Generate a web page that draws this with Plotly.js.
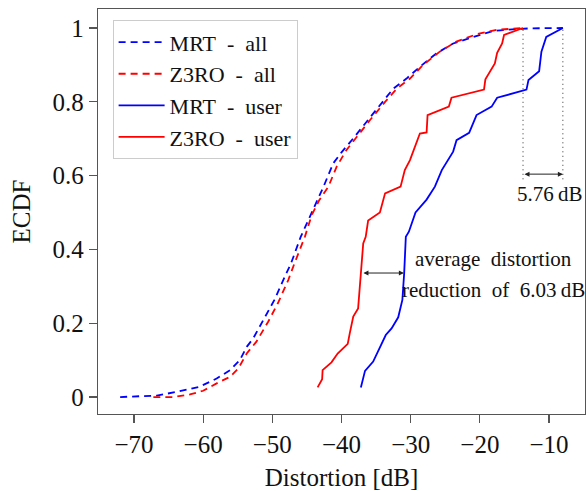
<!DOCTYPE html>
<html>
<head>
<meta charset="utf-8">
<script src="https://cdn.plot.ly/plotly-3.0.1.min.js"></script>
<style>html,body{margin:0;padding:0;background:#fff;}#chart{width:586px;height:491px;}</style>
</head>
<body>
<div id="chart"></div>
<script>
// Series names
const seriesNames = ["MRT\u2002-\u2002all", "Z3RO\u2002-\u2002all", "MRT\u2002-\u2002user", "Z3RO\u2002-\u2002user"];

// MRT - all (dashed blue)
const mrtAllX = [-72.0,-66.7,-63.8,-60.5,-58.05,-56.1,-54.7,-53.7,-52.76,-51.1,-49.7,-48.2,-47.3,-45.9,-44.35,-43.4,-42.6,-41.2,-40.0,-38.3,-36.4,-34.45,-32.5,-30.6,-28.67,-26.3,-23.86,-20.9,-18.1,-14.7,-12.8,-8.0];
const mrtAllY = [0.0,0.004,0.014,0.028,0.05,0.073,0.1,0.136,0.159,0.215,0.263,0.326,0.362,0.434,0.498,0.534,0.57,0.633,0.663,0.701,0.746,0.791,0.836,0.863,0.895,0.931,0.958,0.976,0.992,0.997,0.999,1.0];

// Z3RO - all (dashed red)
const z3roAllX = [-67.2,-64.3,-61.9,-60.0,-58.05,-56.1,-54.9,-53.7,-52.3,-50.6,-49.2,-47.7,-46.8,-45.3,-44.3,-43.2,-41.9,-40.7,-39.3,-37.8,-35.9,-33.7,-32.0,-30.1,-28.2,-25.8,-23.4,-20.5,-17.6,-13.76];
const z3roAllY = [0.0,0.0,0.007,0.017,0.037,0.055,0.078,0.118,0.15,0.204,0.254,0.317,0.362,0.434,0.493,0.534,0.57,0.624,0.669,0.705,0.75,0.8,0.836,0.863,0.9,0.936,0.963,0.983,0.995,1.0];

// MRT - user (solid blue)
const mrtUserX = [-37.2,-36.6,-35.42,-34.7,-33.6,-32.76,-31.8,-31.2,-30.94,-30.7,-30.26,-29.3,-27.7,-26.5,-25.5,-23.86,-23.37,-21.55,-20.48,-18.3,-17.5,-13.26,-12.97,-11.43,-11.1,-10.4,-8.0];
const mrtUserY = [0.026,0.071,0.096,0.123,0.168,0.186,0.216,0.263,0.335,0.434,0.448,0.500,0.535,0.570,0.615,0.665,0.696,0.716,0.764,0.787,0.811,0.833,0.859,0.883,0.936,0.976,1.0];

// Z3RO - user (solid red)
const z3roUserX = [-43.45,-42.8,-42.73,-41.45,-40.56,-39.1,-38.8,-38.3,-37.6,-37.45,-37.2,-36.95,-36.86,-36.5,-36.15,-34.45,-33.7,-31.46,-30.85,-30.1,-29.15,-28.67,-27.7,-27.56,-24.48,-24.1,-19.4,-19.2,-17.83,-17.5,-16.78,-16.5,-13.76];
const z3roUserY = [0.026,0.048,0.073,0.094,0.118,0.144,0.173,0.218,0.240,0.281,0.335,0.398,0.416,0.434,0.478,0.500,0.552,0.570,0.615,0.642,0.692,0.714,0.717,0.764,0.787,0.811,0.833,0.861,0.904,0.933,0.958,0.981,1.0];

// Annotation values
const maxGapX = [-13.76, -8.0];      // dotted guides
const maxGapYRange = [0.59, 1.0];
const maxGapArrowY = 0.604;
const maxGapLabel = "5.76\u2009dB";
const avgArrowX = [-37.05, -30.98];
const avgArrowY = 0.336;
const avgLabels = ["average\u2002distortion", "reduction\u2002of\u20026.03\u2009dB"];

const FONT = "Liberation Serif";
const AXC = "#555555";

const traces = [
  {x: mrtAllX, y: mrtAllY, name: seriesNames[0], mode: "lines", line: {color: "#0000ff", width: 1.8, dash: "7px,5px"}},
  {x: z3roAllX, y: z3roAllY, name: seriesNames[1], mode: "lines", line: {color: "#ff0000", width: 1.8, dash: "7px,5px"}},
  {x: mrtUserX, y: mrtUserY, name: seriesNames[2], mode: "lines", line: {color: "#0000ff", width: 1.8}},
  {x: z3roUserX, y: z3roUserY, name: seriesNames[3], mode: "lines", line: {color: "#ff0000", width: 1.8}},
];
maxGapX.forEach(function (gx) {
  traces.push({x: [gx, gx], y: maxGapYRange, mode: "lines", showlegend: false, hoverinfo: "skip",
    line: {color: "#333333", width: 1, dash: "1px,3.5px"}});
});

const annotations = [
  {x: maxGapX[1], y: maxGapArrowY, ax: maxGapX[0], ay: maxGapArrowY, xref: "x", yref: "y", axref: "x", ayref: "y",
   text: "", showarrow: true, arrowhead: 2, startarrowhead: 2, arrowside: "end+start", arrowsize: 1, arrowwidth: 1, arrowcolor: "#222"},
  {x: (maxGapX[0] + maxGapX[1]) / 2 + 0.9, y: 0.55, xref: "x", yref: "y", text: maxGapLabel, showarrow: false,
   font: {family: FONT, size: 21, color: "#111"}},
  {x: avgArrowX[1], y: avgArrowY, ax: avgArrowX[0], ay: avgArrowY, xref: "x", yref: "y", axref: "x", ayref: "y",
   text: "", showarrow: true, arrowhead: 2, startarrowhead: 2, arrowside: "end+start", arrowsize: 1, arrowwidth: 1, arrowcolor: "#222"},
  {x: -18.1, y: 0.374, xref: "x", yref: "y", text: avgLabels[0], showarrow: false, font: {family: FONT, size: 21, color: "#111"}},
  {x: -18.1, y: 0.29, xref: "x", yref: "y", text: avgLabels[1], showarrow: false, font: {family: FONT, size: 21, color: "#111"}},
];

const layout = {
  width: 586, height: 491,
  margin: {l: 98, r: 1, t: 9, b: 77},
  paper_bgcolor: "#ffffff", plot_bgcolor: "#ffffff",
  font: {family: FONT, size: 24, color: "#111"},
  showlegend: true,
  legend: {x: 0.030, y: 0.972, xanchor: "left", yanchor: "top", bgcolor: "#ffffff",
    bordercolor: "#cccccc", borderwidth: 1, font: {family: FONT, size: 22, color: "#111"},
    itemwidth: 46, tracegroupgap: 0},
  xaxis: {range: [-75.2, -4.8], tickvals: [-70, -60, -50, -40, -30, -20, -10],
    showgrid: false, zeroline: false, showline: true, linecolor: AXC, linewidth: 1.3, mirror: true,
    ticks: "outside", ticklen: 8, tickwidth: 1.2, tickcolor: AXC,
    tickfont: {family: FONT, size: 25, color: "#111"},
    title: {text: "Distortion [dB]", font: {family: FONT, size: 25, color: "#111"}, standoff: 12}},
  yaxis: {range: [-0.046, 1.0515], tickvals: [0, 0.2, 0.4, 0.6, 0.8, 1], ticktext: ["0", "0.2", "0.4", "0.6", "0.8", "1"],
    showgrid: false, zeroline: false, showline: true, linecolor: AXC, linewidth: 1.3, mirror: true,
    ticks: "outside", ticklen: 8, tickwidth: 1.2, tickcolor: AXC,
    tickfont: {family: FONT, size: 25, color: "#111"},
    title: {text: "ECDF", font: {family: FONT, size: 25, color: "#111"}, standoff: 14}},
  annotations: annotations,
};

Plotly.newPlot("chart", traces, layout, {displayModeBar: false, staticPlot: true});
</script>
</body>
</html>
